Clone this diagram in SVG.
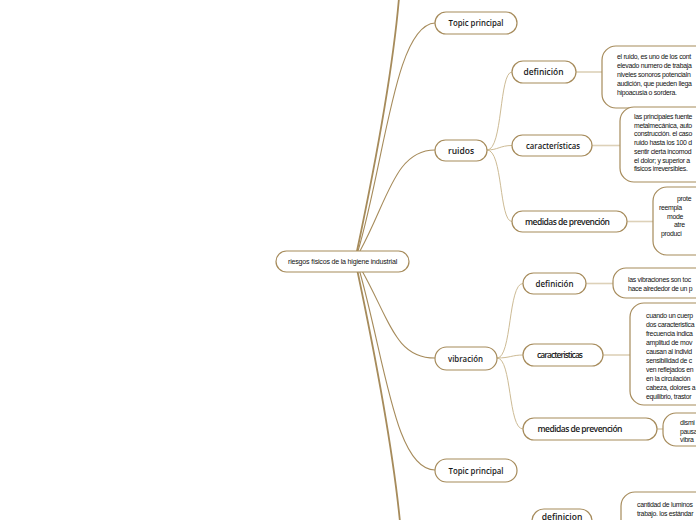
<svg xmlns="http://www.w3.org/2000/svg" width="696" height="520" viewBox="0 0 696 520">
<style>
.bg{fill:#ffffff}
.node{fill:#ffffff;stroke:#a68b5b;stroke-width:1.2}
.box{fill:#ffffff;stroke:#a68b5b;stroke-width:1.2}
.lbl{font-family:"Open Sans","Liberation Sans",sans-serif;font-size:8.5px;font-weight:600;fill:#1a1a1a;text-anchor:middle}
.ctr{font-family:"Liberation Sans",Arial,sans-serif;font-size:7px;fill:#111111;text-anchor:middle;letter-spacing:-0.2px}
.t{font-family:"Liberation Sans",Arial,sans-serif;font-size:6.9px;fill:#111111;letter-spacing:-0.3px}
.main{fill:none;stroke:#a68b5b;stroke-width:1.8;stroke-linecap:round}
.mainT{fill:none;stroke:#a68b5b;stroke-width:1.1;stroke-linecap:round}
.sub{fill:none;stroke:#cdbb95;stroke-width:1}
.leaf{fill:none;stroke:#ddd1b8;stroke-width:1.6}
</style>
<rect class="bg" x="0" y="0" width="696" height="520"/>
<g id="connectors">
  <path class="main" d="M357,251 C372,180 392,80 399,-2"/>
  <path class="mainT" d="M358,251 C385,160 395,25 435,23"/>
  <path class="mainT" d="M360,251 C388,200 395,150 435,150"/>
  <path class="mainT" d="M361,269 C390,320 395,358 435,358"/>
  <path class="mainT" d="M359,269 C385,360 395,470 435,470"/>
  <path class="main" d="M357,269 C372,340 392,440 400,522"/>
  <path class="sub" d="M487,150 C503,150 499,72 512,72"/>
  <path class="sub" d="M487,150 C498,150 500,145.5 512,145.5"/>
  <path class="sub" d="M487,150 C503,150 499,221.5 512,221.5"/>
  <path class="sub" d="M497,358 C512,358 508,283.5 523,283.5"/>
  <path class="sub" d="M497,358 C510,358 512,355 523,355"/>
  <path class="sub" d="M497,358 C512,358 508,429 523,429"/>
  <path class="leaf" d="M576,72 H602"/>
  <path class="leaf" d="M592,145.5 H620"/>
  <path class="leaf" d="M627,221.5 H653"/>
  <path class="leaf" d="M586,283.5 H613"/>
  <path class="leaf" d="M603,355 H630"/>
  <path class="leaf" d="M657,429 H663"/>
</g>
<g id="n-center">
  <rect class="node" x="276" y="251" width="133" height="21" rx="10.5"/>
  <text class="ctr" x="342.5" y="264" textLength="109" lengthAdjust="spacingAndGlyphs">riesgos físicos de la higiene industrial</text>
</g>
<g id="n-topic1">
  <rect class="node" x="435" y="12" width="82" height="22" rx="11"/>
  <text class="lbl" x="476" y="26" textLength="55" lengthAdjust="spacingAndGlyphs">Topic principal</text>
</g>
<g id="n-ruidos">
  <rect class="node" x="435" y="140" width="52" height="21" rx="10.5"/>
  <text class="lbl" x="461" y="153.5">ruidos</text>
</g>
<g id="n-def1">
  <rect class="node" x="512" y="61" width="64" height="22" rx="11"/>
  <text class="lbl" x="543.5" y="75" textLength="40" lengthAdjust="spacingAndGlyphs">definición</text>
</g>
<g id="t-def1">
  <rect class="box" x="602" y="46" width="130" height="62" rx="14"/>
  <text class="t" x="617" y="59">el ruido, es uno de los cont</text>
  <text class="t" x="617" y="68">elevado numero de trabaja</text>
  <text class="t" x="617" y="77">niveles sonoros potencialn</text>
  <text class="t" x="617" y="86">audición, que pueden llega</text>
  <text class="t" x="617" y="95">hipoacusia o sordera.</text>
</g>
<g id="n-car1">
  <rect class="node" x="512" y="135" width="80" height="21" rx="10.5"/>
  <text class="lbl" x="553" y="148.5" textLength="54" lengthAdjust="spacingAndGlyphs">características</text>
</g>
<g id="t-car1">
  <rect class="box" x="620" y="107" width="120" height="75" rx="14"/>
  <text class="t" x="634" y="119">las principales fuente</text>
  <text class="t" x="634" y="127.7">metalmecánica, auto</text>
  <text class="t" x="634" y="136.4">construcción. el caso</text>
  <text class="t" x="634" y="145.1">ruido hasta los 100 d</text>
  <text class="t" x="634" y="153.8">sentir cierta incomod</text>
  <text class="t" x="634" y="162.5">el dolor; y superior a</text>
  <text class="t" x="634" y="171.2">fisicos irreversibles.</text>
</g>
<g id="n-med1">
  <rect class="node" x="512" y="211" width="115" height="21" rx="10.5"/>
  <text class="lbl" x="567.5" y="224.5" textLength="85" lengthAdjust="spacing">medidas de prevención</text>
</g>
<g id="t-med1">
  <rect class="box" x="653" y="187" width="100" height="68" rx="14"/>
  <text class="t" x="677" y="200.5">prote</text>
  <text class="t" x="659" y="209.5">reempla</text>
  <text class="t" x="667" y="218.5">mode</text>
  <text class="t" x="674" y="227">atre</text>
  <text class="t" x="661" y="236">produci</text>
</g>
<g id="n-vib">
  <rect class="node" x="435" y="347" width="62" height="23" rx="11.5"/>
  <text class="lbl" x="465.5" y="361.5" textLength="35" lengthAdjust="spacingAndGlyphs">vibración</text>
</g>
<g id="n-def2">
  <rect class="node" x="523" y="273" width="63" height="21" rx="10.5"/>
  <text class="lbl" x="554.5" y="286.5" textLength="38" lengthAdjust="spacingAndGlyphs">definición</text>
</g>
<g id="t-def2">
  <rect class="box" x="613" y="268" width="130" height="30" rx="13"/>
  <text class="t" x="628" y="281.5">las vibraciones son toc</text>
  <text class="t" x="628" y="290.5">hace alrededor de un p</text>
</g>
<g id="n-car2">
  <rect class="node" x="523" y="344" width="80" height="22" rx="11"/>
  <text class="lbl" x="560" y="358" textLength="46" lengthAdjust="spacing">caracteristicas</text>
</g>
<g id="t-car2">
  <rect class="box" x="630" y="303" width="120" height="102" rx="14"/>
  <text class="t" x="646" y="317.5">cuando un cuerp</text>
  <text class="t" x="646" y="326.5">dos caracteristica</text>
  <text class="t" x="646" y="335.5">frecuencia indica</text>
  <text class="t" x="646" y="344.5">amplitud de mov</text>
  <text class="t" x="646" y="353.5">causan al individ</text>
  <text class="t" x="646" y="362.5">sensibilidad de c</text>
  <text class="t" x="646" y="371.5">ven reflejados en</text>
  <text class="t" x="646" y="380.5">en la circulación</text>
  <text class="t" x="646" y="389.5">cabeza, dolores a</text>
  <text class="t" x="646" y="398.5">equilibrio, trastor</text>
</g>
<g id="n-med2">
  <rect class="node" x="523" y="418" width="134" height="22" rx="11"/>
  <text class="lbl" x="580" y="432" textLength="85" lengthAdjust="spacing">medidas de prevención</text>
</g>
<g id="t-med2">
  <rect class="box" x="663" y="413" width="80" height="33" rx="13"/>
  <text class="t" x="680" y="425">dismi</text>
  <text class="t" x="680" y="433.5">pausa</text>
  <text class="t" x="680" y="442">vibra</text>
</g>
<g id="n-topic2">
  <rect class="node" x="435" y="459" width="82" height="23" rx="11.5"/>
  <text class="lbl" x="476" y="473.5" textLength="55" lengthAdjust="spacingAndGlyphs">Topic principal</text>
</g>
<g id="n-def3">
  <rect class="node" x="532" y="509" width="60" height="24" rx="12"/>
  <text class="lbl" x="562" y="519.5" font-size="8">definicion</text>
</g>
<g id="t-def3">
  <rect class="box" x="621" y="492" width="120" height="50" rx="14"/>
  <text class="t" x="637" y="506.5">cantidad de luminos</text>
  <text class="t" x="637" y="515.5">trabajo. los estándar</text>
</g>
</svg>
